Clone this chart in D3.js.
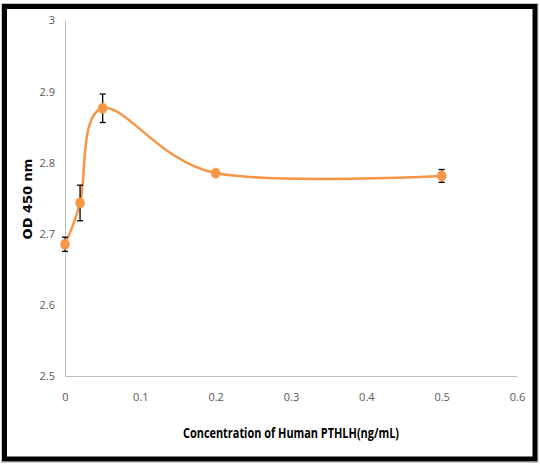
<!DOCTYPE html>
<html>
<head>
<meta charset="utf-8">
<script src="https://cdn.jsdelivr.net/npm/d3@7"></script>
<style>
  body { margin: 0; background: #fff; }
  svg { display: block; }
</style>
</head>
<body>
<div id="chart"></div>
<script>
'use strict';

// data
var concentration = [0, 0.02, 0.05, 0.2, 0.5];
var od450 = [2.685, 2.743, 2.876, 2.785, 2.781];
var odError = [0.01, 0.025, 0.02, 0.002, 0.009];
var xTicks = [0, 0.1, 0.2, 0.3, 0.4, 0.5, 0.6];
var yTicks = [2.5, 2.6, 2.7, 2.8, 2.9, 3];

var width = 540;
var height = 464;
var margins = { top: 20, right: 23, bottom: 88, left: 65 };
var chartW = width - margins.left - margins.right;
var chartH = height - margins.top - margins.bottom;

var svg = d3.select('#chart').append('svg')
  .attr('width', width)
  .attr('height', height);

// outer frame
svg.append('rect')
  .attr('x', 1.5).attr('y', 3.5)
  .attr('width', 536.5).attr('height', 459)
  .style('fill', 'none').style('stroke', '#c8c8c8').style('stroke-width', 1);
svg.append('rect')
  .attr('x', 4.5).attr('y', 6.5)
  .attr('width', 530.5).attr('height', 452.5)
  .style('fill', 'none').style('stroke', '#000').style('stroke-width', 5);

var g = svg.append('g')
  .attr('transform', 'translate(' + margins.left + ',' + margins.top + ')');

var x = d3.scaleLinear().domain([0, 0.6]).range([0, chartW]);
var y = d3.scaleLinear().domain([2.5, 3]).range([chartH, 0]);

var tickFont = '"Open Sans", "Noto Sans", sans-serif';

// y axis
var yAxis = g.append('g')
  .call(d3.axisLeft(y).tickValues(yTicks).tickSize(0).tickPadding(10)
    .tickFormat(function (d) { return String(+d.toFixed(1)); }));
yAxis.select('.domain').style('stroke', '#bfbfbf').style('stroke-width', 1);
yAxis.selectAll('text')
  .style('font-family', tickFont).style('font-size', '11px')
  .style('fill', '#595959').attr('dy', '0.35em');

// x axis
var xAxis = g.append('g')
  .attr('transform', 'translate(0,' + chartH + ')')
  .call(d3.axisBottom(x).tickValues(xTicks).tickSize(0).tickPadding(17)
    .tickFormat(function (d) { return String(+d.toFixed(1)); }));
xAxis.select('.domain').style('stroke', '#bfbfbf').style('stroke-width', 1);
xAxis.selectAll('text')
  .style('font-family', tickFont).style('font-size', '11px')
  .style('fill', '#595959');

// axis titles
svg.append('text')
  .attr('x', 291).attr('y', 438)
  .attr('textLength', 216)
  .attr('lengthAdjust', 'spacingAndGlyphs')
  .style('font-family', tickFont).style('font-size', '14px')
  .style('font-weight', 'bold').style('fill', '#000')
  .style('text-anchor', 'middle')
  .text('Concentration of Human PTHLH(ng/mL)');

svg.append('text')
  .attr('transform', 'translate(32,199) rotate(-90)')
  .style('font-family', '"DejaVu Sans", Verdana, sans-serif').style('font-size', '13px')
  .style('font-weight', 'bold').style('fill', '#000')
  .style('text-anchor', 'middle')
  .text('OD 450 nm');

var points = concentration.map(function (c, i) {
  return { x: c, y: od450[i], e: odError[i] };
});

// smoothed series line
var line = d3.line()
  .x(function (d) { return x(d.x); })
  .y(function (d) { return y(d.y); })
  .curve(d3.curveCardinal.tension(0));

g.append('path')
  .datum(points)
  .attr('d', line)
  .style('fill', 'none')
  .style('stroke', '#f79646')
  .style('stroke-width', 2.5);

// error bars
var bars = g.append('g').attr('class', 'error-bars');
var capW = 3;
points.forEach(function (d) {
  var cx = x(d.x);
  var y1 = y(d.y + d.e);
  var y2 = y(d.y - d.e);
  bars.append('line')
    .attr('x1', cx).attr('x2', cx).attr('y1', y1).attr('y2', y2)
    .style('stroke', '#000').style('stroke-width', 1.3);
  [y1, y2].forEach(function (yy) {
    bars.append('line')
      .attr('x1', cx - capW).attr('x2', cx + capW).attr('y1', yy).attr('y2', yy)
      .style('stroke', '#000').style('stroke-width', 1.3);
  });
});

// markers
g.selectAll('ellipse.marker').data(points).enter().append('ellipse')
  .attr('class', 'marker')
  .attr('cx', function (d) { return x(d.x); })
  .attr('cy', function (d) { return y(d.y); })
  .attr('rx', 4.5)
  .attr('ry', 5.2)
  .style('fill', '#f79646')
  .style('stroke', '#f79646')
  .style('stroke-width', 0.5);
</script>
</body>
</html>
